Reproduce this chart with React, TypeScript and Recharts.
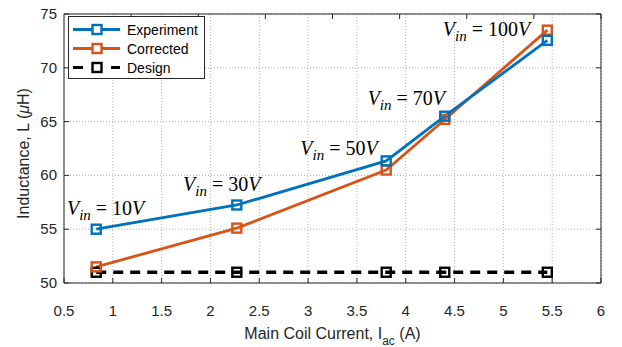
import React from 'react';
import { ComposedChart, Line, XAxis, YAxis, CartesianGrid, ReferenceDot } from 'recharts';

const current = [0.83, 2.27, 3.8, 4.4, 5.45];
const experiment = [55.0, 57.25, 61.35, 65.5, 72.55];
const corrected = [51.5, 55.1, 60.5, 65.2, 73.5];
const design = [51, 51, 51, 51, 51];
const xTicks = [0.5, 1, 1.5, 2, 2.5, 3, 3.5, 4, 4.5, 5, 5.5, 6];
const yTicks = [50, 55, 60, 65, 70, 75];
const annotations = [
  { x: 0.53, y: 56.3, v: '10' },
  { x: 1.72, y: 58.55, v: '30' },
  { x: 2.92, y: 61.9, v: '50' },
  { x: 3.61, y: 66.54, v: '70' },
  { x: 4.38, y: 72.96, v: '100' },
];

const BLUE = '#0072BD';
const ORANGE = '#D95319';
const AX = '#262626';

const data = current.map((c, i) => ({ c, exp: experiment[i], cor: corrected[i], des: design[i] }));

const SquareDot = (color: string) => (p: any) => {
  if (p.cx == null || p.cy == null) return null;
  const s = 9;
  return <rect x={p.cx - s / 2} y={p.cy - s / 2} width={s} height={s} fill="none" stroke={color} strokeWidth={2.4} />;
};

const BottomTick = (p: any) => (
  <g>
    <line x1={p.x} y1={p.y} x2={p.x} y2={p.y - 5} stroke={AX} strokeWidth={1} />
    <text x={p.x} y={p.y + 33} textAnchor="middle" fontFamily="Liberation Sans, Arial" fontSize={15} fill={AX}>{p.payload.value}</text>
  </g>
);
const TopTick = (p: any) => (
  <line x1={p.x} y1={p.y} x2={p.x} y2={p.y + 5} stroke={AX} strokeWidth={1} />
);
const LeftTick = (p: any) => (
  <g>
    <line x1={p.x} y1={p.y} x2={p.x + 5} y2={p.y} stroke={AX} strokeWidth={1} />
    <text x={p.x - 7} y={p.y + 5} textAnchor="end" fontFamily="Liberation Sans, Arial" fontSize={15} fill={AX}>{p.payload.value}</text>
  </g>
);
const RightTick = (p: any) => (
  <line x1={p.x} y1={p.y} x2={p.x - 5} y2={p.y} stroke={AX} strokeWidth={1} />
);

const Annot = (v: string) => (p: any) => (
  <text x={p.cx} y={p.cy} fontFamily="Liberation Serif, serif" fontSize={20} fill="#000">
    <tspan fontStyle="italic">V</tspan>
    <tspan fontStyle="italic" fontSize={15} dy={5}>in</tspan>
    <tspan dy={-5}>{' = ' + v}</tspan>
    <tspan fontStyle="italic">V</tspan>
  </text>
);

const legendItems = [
  { name: 'Experiment', color: BLUE, dash: undefined as string | undefined },
  { name: 'Corrected', color: ORANGE, dash: undefined as string | undefined },
  { name: 'Design', color: '#000', dash: '10 9' },
];

const LegendBox = () => (
  <div style={{ position: 'absolute', left: 68, top: 16, width: 135, height: 61, border: `1px solid ${AX}`, background: '#fff' }}>
    <svg width={135} height={61} style={{ display: 'block' }}>
      {legendItems.map((it, i) => {
        const cy = 12.5 + i * 19;
        return (
          <g key={it.name}>
            <line x1={4} y1={cy} x2={51} y2={cy} stroke={it.color} strokeWidth={3} strokeDasharray={it.dash} />
            <rect x={23.5} y={cy - 4.5} width={9} height={9} fill="#fff" stroke={it.color} strokeWidth={2.4} />
            <text x={58} y={cy + 5} fontFamily="Liberation Sans, Arial" fontSize={14} fill="#000">{it.name}</text>
          </g>
        );
      })}
    </svg>
  </div>
);

export default function App() {
  return (
    <div style={{ position: 'absolute', left: 0, top: 0, width: 622, height: 347, background: '#fff' }}>
      <ComposedChart width={622} height={347} data={data} margin={{ top: 13, right: 20, bottom: 34, left: 14 }}>
        <CartesianGrid stroke="#b0b0b0" strokeDasharray="1 2" horizontalValues={yTicks} verticalValues={xTicks} />
        <XAxis dataKey="c" type="number" domain={[0.5, 6]} ticks={xTicks} interval={0} tickLine={false} tickSize={0} tickMargin={0}
          axisLine={{ stroke: AX }} tick={BottomTick} height={30}
          label={{
            content: (lp: any) => {
              const vb = lp.viewBox;
              return (
                <text x={vb.x + vb.width / 2} y={339} textAnchor="middle" fontFamily="Liberation Sans, Arial" fontSize={16} fill={AX}>
                  Main Coil Current, I<tspan fontSize={12} dy={6}>ac</tspan><tspan dy={-6}> (A)</tspan>
                </text>
              );
            },
          }} />
        <XAxis xAxisId="top" orientation="top" type="number" domain={[0.5, 6]} ticks={xTicks} interval={0} tickLine={false} tickSize={0} tickMargin={0}
          axisLine={{ stroke: AX }} tick={TopTick} height={1} allowDataOverflow />
        <YAxis type="number" domain={[50, 75]} ticks={yTicks} interval={0} tickLine={false} tickSize={0} tickMargin={0}
          axisLine={{ stroke: AX }} tick={LeftTick} width={50}
          label={{
            content: (lp: any) => {
              const vb = lp.viewBox;
              const cx = 25;
              const cy = vb.y + vb.height / 2 + 5;
              return (
                <text x={cx} y={cy} transform={`rotate(-90, ${cx}, ${cy})`} textAnchor="middle" dominantBaseline="middle" fontFamily="Liberation Sans, Arial" fontSize={16} fill={AX}>
                  Inductance, L (<tspan fontStyle="italic">μ</tspan>H)
                </text>
              );
            },
          }} />
        <YAxis yAxisId="right" orientation="right" type="number" domain={[50, 75]} ticks={yTicks} interval={0} tickLine={false} tickSize={0} tickMargin={0}
          axisLine={{ stroke: AX }} tick={RightTick} width={1} allowDataOverflow />
        <Line dataKey="des" stroke="#000" strokeWidth={3.3} strokeDasharray="10 7" dot={SquareDot('#000')} isAnimationActive={false} />
        <Line dataKey="cor" stroke={ORANGE} strokeWidth={2.8} dot={SquareDot(ORANGE)} isAnimationActive={false} />
        <Line dataKey="exp" stroke={BLUE} strokeWidth={2.8} dot={SquareDot(BLUE)} isAnimationActive={false} />
        {annotations.map((a) => (
          <ReferenceDot key={a.v} x={a.x} y={a.y} r={0} ifOverflow="visible" shape={Annot(a.v)} />
        ))}
      </ComposedChart>
      <LegendBox />
    </div>
  );
}
